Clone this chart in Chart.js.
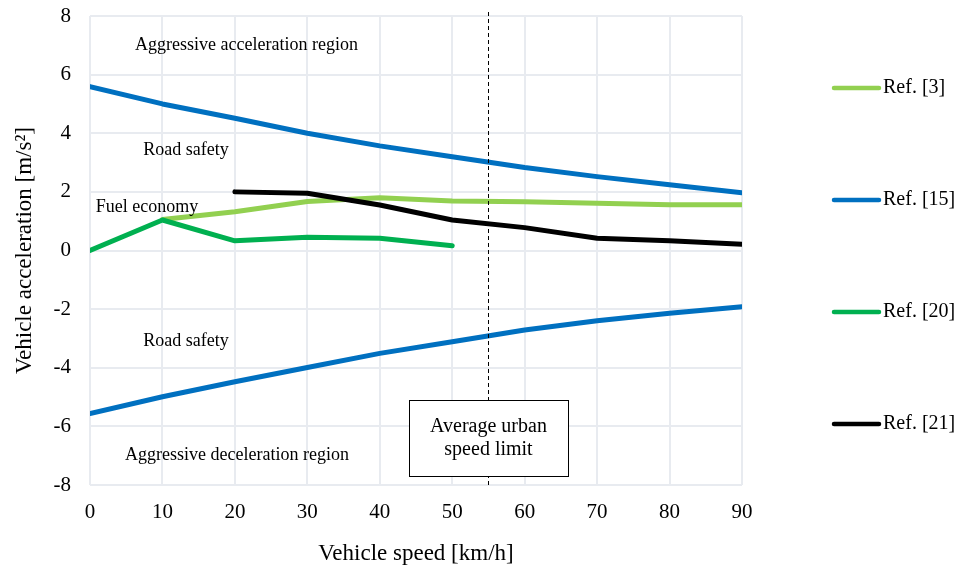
<!DOCTYPE html>
<html><head><meta charset="utf-8">
<script src="https://cdn.jsdelivr.net/npm/chart.js@4.4.0/dist/chart.umd.min.js"></script>
<style>html,body{margin:0;padding:0;background:#fff;} #wrap{width:963px;height:573px;position:relative;}</style>
</head><body><div id="wrap"><canvas id="c"></canvas></div>
<script>
const speeds = [0,10,20,30,40,50,60,70,80,90];
const ref3 = [null,1.06,1.32,1.67,1.80,1.69,1.66,1.61,1.56,1.56];
const ref15Upper = [5.59,5.00,4.51,4.00,3.57,3.20,2.83,2.52,2.24,1.97];
const ref15Lower = [-5.56,-4.99,-4.48,-3.99,-3.51,-3.11,-2.71,-2.40,-2.14,-1.92];
const ref20 = [0,1.04,0.33,0.45,0.42,0.16,null,null,null,null];
const ref21 = [null,null,2.00,1.95,1.55,1.04,0.78,0.42,0.33,0.21];
const yTicks = [-8,-6,-4,-2,0,2,4,6,8];
const xTicks = [0,10,20,30,40,50,60,70,80,90];
const legendLabels = ['Ref. [3]','Ref. [15]','Ref. [20]','Ref. [21]'];
const speedLimit = 55;
const notes = [
  {text:'Aggressive acceleration region', x:21.6, y:7.0},
  {text:'Road safety', x:13.25, y:3.43},
  {text:'Fuel economy', x:7.87, y:1.49},
  {text:'Road safety', x:13.25, y:-3.09},
  {text:'Aggressive deceleration region', x:20.3, y:-6.98}
];
const boxLines = ['Average urban','speed limit'];
const boxCenterY = -6.4;

const FONT = "'Liberation Serif','Times New Roman',serif";
const colors = ['#92D050','#0070C0','#00B050','#000000'];

function pts(vals){ const out=[]; vals.forEach((v,i)=>{ if(v!==null) out.push({x:speeds[i],y:v}); }); return out; }

const ds = (label, vals, color, order) => ({
  label, data: pts(vals), borderColor: color, backgroundColor: color,
  borderWidth: 5, pointRadius: 0, tension: 0, borderCapStyle:'round', borderJoinStyle:'round', order
});

const overlay = {
  id:'overlay',
  afterDatasetsDraw(chart){
    const ctx = chart.ctx, xs = chart.scales.x, ys = chart.scales.y, ca = chart.chartArea;
    ctx.save();
    ctx.fillStyle = '#000';
    ctx.font = '18px ' + FONT;
    ctx.textAlign = 'center'; ctx.textBaseline = 'middle';
    notes.forEach(n => ctx.fillText(n.text, xs.getPixelForValue(n.x), ys.getPixelForValue(n.y)));
    const px = Math.round(xs.getPixelForValue(speedLimit)) + 0.5;
    ctx.strokeStyle = '#000'; ctx.lineWidth = 1; ctx.setLineDash([4,3]);
    ctx.beginPath(); ctx.moveTo(px, ca.top - 4); ctx.lineTo(px, ca.bottom + 3); ctx.stroke();
    ctx.setLineDash([]);
    const bw = 159, bh = 76;
    const cy = ys.getPixelForValue(boxCenterY);
    const bx = px - bw/2, by = cy - bh/2;
    ctx.fillStyle = '#fff'; ctx.fillRect(bx, by, bw, bh);
    ctx.strokeStyle = '#000'; ctx.lineWidth = 1;
    ctx.strokeRect(Math.round(bx)+0.5, Math.round(by)+0.5, bw, bh);
    ctx.fillStyle = '#000'; ctx.font = '20px ' + FONT;
    ctx.fillText(boxLines[0], px, cy - 11.5);
    ctx.fillText(boxLines[1], px, cy + 11.5);
    const legY = [88, 200, 312, 424];
    ctx.font = '20px ' + FONT; ctx.textAlign = 'left';
    legendLabels.forEach((lab, i) => {
      ctx.strokeStyle = colors[i]; ctx.lineWidth = 4.5; ctx.lineCap = 'round';
      ctx.beginPath(); ctx.moveTo(834, legY[i]); ctx.lineTo(879, legY[i]); ctx.stroke();
      ctx.fillStyle = '#000';
      ctx.fillText(lab, 883, legY[i]);
    });
    ctx.restore();
  }
};

new Chart(document.getElementById('c'), {
  type: 'line',
  data: { datasets: [
    ds(legendLabels[0], ref3, colors[0], 3),
    ds(legendLabels[1], ref15Upper, colors[1], 4),
    ds(legendLabels[1], ref15Lower, colors[1], 4),
    ds(legendLabels[2], ref20, colors[2], 2),
    ds(legendLabels[3], ref21, colors[3], 1)
  ]},
  options: {
    responsive: true, maintainAspectRatio: false, animation: false,
    layout: { padding: { top: 16, right: 221, left: 0, bottom: 0 } },
    plugins: { legend: { display: false }, tooltip: { enabled: false } },
    scales: {
      x: {
        type: 'linear', min: 0, max: 90,
        afterBuildTicks: s => { s.ticks = xTicks.map(v => ({value: v})); },
        afterFit: s => { s.height = 88; s.paddingLeft = 0; s.paddingRight = 0; },
        grid: { color: '#E8EBF0', lineWidth: 2, drawTicks: false },
        border: { display: false },
        ticks: { font: { family: FONT, size: 21 }, color: '#000', padding: 15 },
        title: { display: true, text: 'Vehicle speed [km/h]', font: { family: FONT, size: 23 }, color: '#000', padding: { top: 0, bottom: 5 } }
      },
      y: {
        min: -8, max: 8,
        afterBuildTicks: s => { s.ticks = yTicks.map(v => ({value: v})); },
        afterFit: s => { s.width = 90; s.paddingTop = 0; s.paddingBottom = 0; },
        grid: { color: '#E8EBF0', lineWidth: 2, drawTicks: false },
        border: { display: false },
        ticks: { font: { family: FONT, size: 21 }, color: '#000', padding: 19 },
        title: { display: true, text: 'Vehicle acceleration [m/s²]', font: { family: FONT, size: 23 }, color: '#000', padding: { top: 11, bottom: 0 } }
      }
    }
  },
  plugins: [overlay]
});
</script></body></html>
